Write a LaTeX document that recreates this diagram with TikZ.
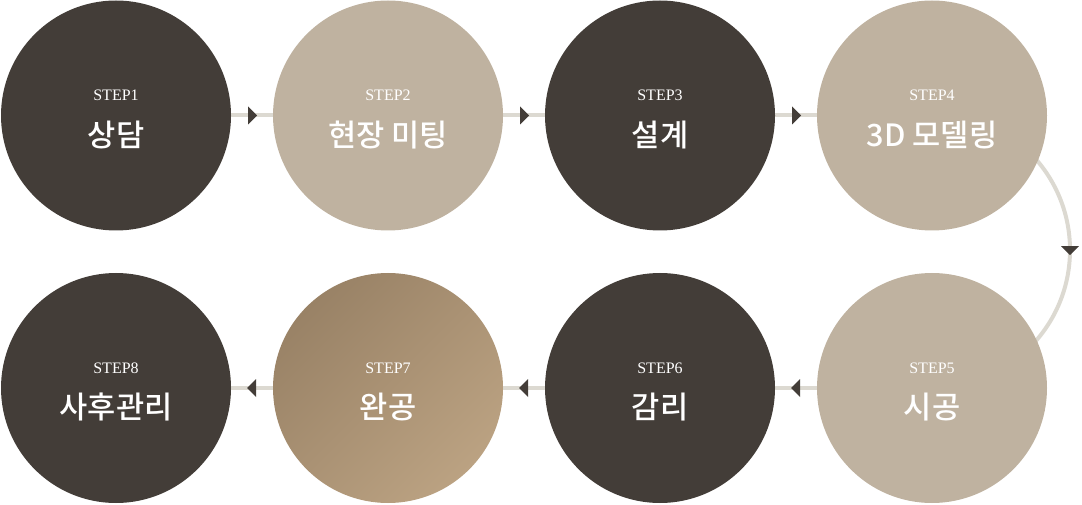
\documentclass[tikz,border=0pt]{standalone}
\usepackage{fontspec}
\setmainfont{Liberation Serif}
\newfontfamily\krfont{Noto Sans CJK KR}[BoldFont={Noto Sans CJK KR Medium}]
\usetikzlibrary{decorations.markings,backgrounds}
\definecolor{cdark}{HTML}{433D38}
\definecolor{clight}{HTML}{BFB2A0}
\definecolor{cline}{HTML}{DCD9D1}
\definecolor{cgA}{HTML}{998266}
\definecolor{cgB}{HTML}{BBA282}
\begin{document}
\begin{tikzpicture}[x=0.75pt,y=0.75pt,
  stepcircle/.style={circle, minimum size=172.5pt, inner sep=0pt, draw=none},
  darkc/.style={stepcircle, fill=cdark},
  lightc/.style={stepcircle, fill=clight},
  gradc/.style={stepcircle, top color=cgA, bottom color=cgB, shading angle=45},
  steplbl/.style={text=white, inner sep=0pt, font=\fontsize{12}{12}\selectfont},
  titlelbl/.style={text=white, inner sep=0pt, font=\krfont\bfseries\fontsize{23}{23}\selectfont},
  conn/.style={draw=cline, line width=3pt, postaction={decorate},
    decoration={markings, mark=at position 0.5 with {\fill[cdark] (-4,-9) -- (5,0) -- (-4,9) -- cycle;}}}
]
\useasboundingbox (0,0) rectangle (1082,504);
\node[darkc]  (c1) at (116,388.5) {};
\node[lightc] (c2) at (388,388.5) {};
\node[darkc]  (c3) at (660,388.5) {};
\node[lightc] (c4) at (932,388.5) {};
\node[lightc] (c5) at (932,116) {};
\node[darkc]  (c6) at (660,116) {};
\node[gradc]  (c7) at (388,116) {};
\node[darkc]  (c8) at (116,116) {};

\foreach \i/\t in {1/상담,2/현장 미팅,3/설계,4/3D 모델링,5/시공,6/감리,7/완공,8/사후관리}{
  \node[steplbl]  (s\i) at ([yshift=15pt]c\i.center) {STEP\i};
  \node[titlelbl] (t\i) at ([yshift=-14.6pt]c\i.center) {\t};
}

\begin{scope}[on background layer]
  \draw[conn] (c1) -- (c2);
  \draw[conn] (c2) -- (c3);
  \draw[conn] (c3) -- (c4);
  \draw[conn] ([yshift=2.6pt]c4.center) arc[start angle=90, end angle=-90, radius=103.5pt];
  \draw[conn] (c5) -- (c6);
  \draw[conn] (c6) -- (c7);
  \draw[conn] (c7) -- (c8);
\end{scope}
\end{tikzpicture}
\end{document}
